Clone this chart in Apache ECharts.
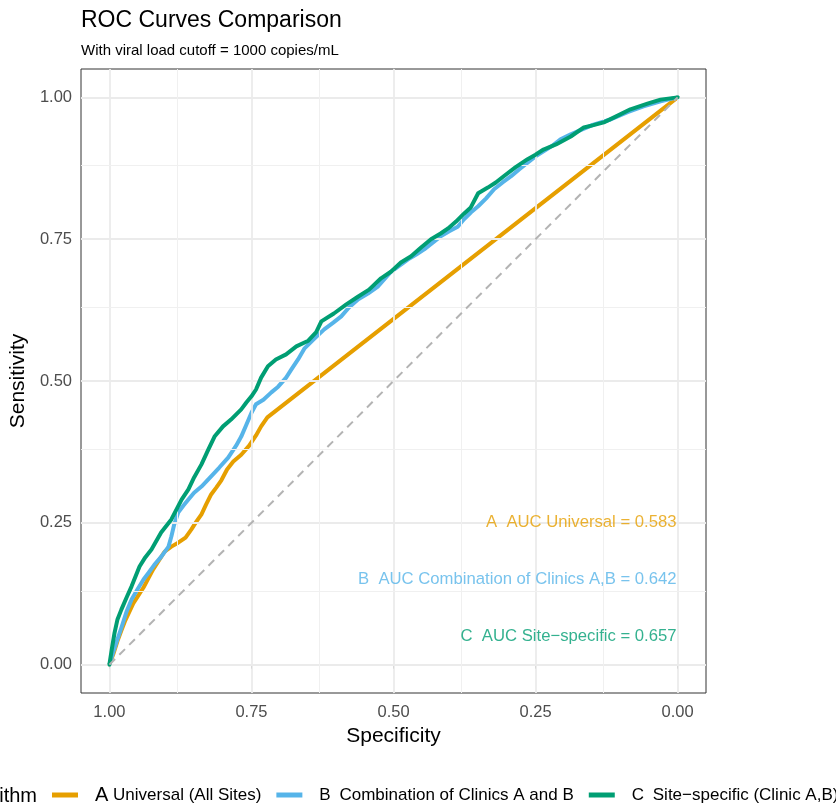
<!DOCTYPE html>
<html>
<head>
<meta charset="utf-8">
<script src="https://cdn.jsdelivr.net/npm/echarts@6.0.0/dist/echarts.min.js"></script>
<style>
html,body{margin:0;padding:0;background:#fff;}
#chart{width:836px;height:803px;}
</style>
</head>
<body>
<div id="chart"></div>
<script>
// ---- data ----
const seriesNames = ['A Universal (All Sites)', 'B Combination of Clinics A and B', 'C Site-specific (Clinic A,B)'];
const legendLetters = ['A', 'B', 'C'];
const legendLabels = ['Universal (All Sites)', 'Combination of Clinics A and B', 'Site\u2212specific (Clinic A,B)'];
const seriesColors = ['#E69F00', '#56B4E9', '#009E73'];
const aucLabels = ['A  AUC Universal = 0.583', 'B  AUC Combination of Clinics A,B = 0.642', 'C  AUC Site\u2212specific = 0.657'];
const aucLabelPos = [[0, 0.25], [0, 0.15], [0, 0.05]];
const majorTicks = [0, 0.25, 0.5, 0.75, 1];
const minorTicks = [0.125, 0.375, 0.625, 0.875];
const chanceLine = [[1, 0], [0, 1]];

// [specificity, sensitivity]
const rocA = [[1.000,0.000],[0.993,0.019],[0.986,0.041],[0.979,0.060],[0.972,0.078],[0.965,0.093],[0.958,0.108],[0.949,0.122],[0.940,0.136],[0.931,0.153],[0.923,0.168],[0.914,0.182],[0.903,0.199],[0.891,0.208],[0.879,0.215],[0.866,0.224],[0.856,0.238],[0.847,0.252],[0.838,0.265],[0.830,0.282],[0.821,0.300],[0.812,0.312],[0.803,0.325],[0.793,0.344],[0.782,0.358],[0.768,0.370],[0.754,0.386],[0.742,0.404],[0.733,0.420],[0.722,0.436],[0.000,1.000]];
const rocB = [[1.000,0.000],[0.993,0.023],[0.986,0.044],[0.979,0.065],[0.970,0.093],[0.961,0.115],[0.951,0.132],[0.940,0.150],[0.931,0.162],[0.921,0.176],[0.909,0.190],[0.896,0.208],[0.891,0.226],[0.886,0.247],[0.879,0.268],[0.870,0.280],[0.861,0.291],[0.851,0.303],[0.838,0.314],[0.821,0.332],[0.807,0.347],[0.791,0.365],[0.777,0.386],[0.768,0.402],[0.759,0.423],[0.750,0.444],[0.742,0.459],[0.729,0.467],[0.715,0.480],[0.703,0.490],[0.689,0.506],[0.680,0.520],[0.668,0.538],[0.657,0.557],[0.641,0.573],[0.622,0.591],[0.606,0.603],[0.592,0.614],[0.578,0.630],[0.562,0.644],[0.545,0.654],[0.527,0.667],[0.513,0.683],[0.504,0.693],[0.487,0.705],[0.475,0.714],[0.460,0.723],[0.446,0.732],[0.431,0.744],[0.417,0.755],[0.402,0.764],[0.387,0.772],[0.376,0.785],[0.364,0.797],[0.351,0.808],[0.337,0.822],[0.323,0.838],[0.308,0.850],[0.293,0.861],[0.279,0.873],[0.264,0.885],[0.250,0.896],[0.236,0.905],[0.220,0.915],[0.206,0.926],[0.188,0.935],[0.176,0.940],[0.148,0.952],[0.118,0.961],[0.088,0.974],[0.060,0.984],[0.030,0.993],[0.000,1.000]];
const rocC = [[1.000,0.000],[0.996,0.026],[0.991,0.056],[0.986,0.079],[0.979,0.097],[0.970,0.118],[0.961,0.138],[0.947,0.173],[0.937,0.189],[0.926,0.203],[0.909,0.233],[0.891,0.256],[0.873,0.291],[0.861,0.309],[0.851,0.330],[0.838,0.353],[0.826,0.379],[0.815,0.402],[0.800,0.420],[0.786,0.432],[0.768,0.450],[0.759,0.462],[0.750,0.473],[0.742,0.485],[0.733,0.506],[0.721,0.526],[0.707,0.538],[0.689,0.547],[0.671,0.561],[0.650,0.571],[0.636,0.586],[0.627,0.605],[0.605,0.619],[0.583,0.635],[0.562,0.649],[0.543,0.661],[0.522,0.681],[0.504,0.693],[0.487,0.709],[0.469,0.720],[0.452,0.735],[0.434,0.750],[0.417,0.760],[0.404,0.769],[0.390,0.781],[0.376,0.795],[0.364,0.806],[0.351,0.831],[0.334,0.841],[0.320,0.850],[0.306,0.861],[0.285,0.877],[0.264,0.891],[0.250,0.899],[0.236,0.908],[0.214,0.917],[0.188,0.931],[0.165,0.947],[0.148,0.951],[0.130,0.956],[0.109,0.966],[0.083,0.979],[0.053,0.989],[0.030,0.996],[0.000,1.000]];
const rocData = [rocA, rocB, rocC];

// ---- chart ----
const FONT = '"Liberation Sans", Arial, Helvetica, sans-serif';
const chart = echarts.init(document.getElementById('chart'), null, {renderer: 'canvas'});

const gridLineData = [];
majorTicks.forEach(v => {
  gridLineData.push({xAxis: v, lineStyle: {color: '#ebebeb', width: 1.8, type: 'solid'}});
  gridLineData.push({yAxis: v, lineStyle: {color: '#ebebeb', width: 1.8, type: 'solid'}});
});
minorTicks.forEach(v => {
  gridLineData.push({xAxis: v, lineStyle: {color: '#f0f0f0', width: 1, type: 'solid'}});
  gridLineData.push({yAxis: v, lineStyle: {color: '#f0f0f0', width: 1, type: 'solid'}});
});

const series = [{
  type: 'line', name: 'grid', data: [], silent: true, z: 1,
  markLine: {silent: true, symbol: 'none', label: {show: false}, animation: false, data: gridLineData}
}];
rocData.forEach((d, i) => {
  series.push({
    type: 'line', name: seriesNames[i], data: d, showSymbol: false, symbol: 'none',
    lineStyle: {color: seriesColors[i], width: 4, join: 'round', cap: 'round'},
    itemStyle: {color: seriesColors[i]}, z: 3 + i, animation: false
  });
});
series.push({
  type: 'line', name: 'chance', data: chanceLine, showSymbol: false, symbol: 'none', z: 7,
  lineStyle: {color: '#b3b3b3', width: 2, type: [8, 6]}, animation: false
});
aucLabels.forEach((t, i) => {
  series.push({
    type: 'scatter', name: 'auc' + i, data: [aucLabelPos[i]], symbolSize: 0, z: 8, silent: true,
    label: {show: true, position: 'left', distance: 1, formatter: t, color: seriesColors[i],
            fontFamily: FONT, fontSize: 16.7, align: 'right', verticalAlign: 'middle'},
    animation: false
  });
});

chart.setOption({
  animation: false,
  backgroundColor: '#ffffff',
  textStyle: {fontFamily: FONT},
  title: [
    {text: 'ROC Curves Comparison', left: 81, top: 9, padding: 0,
     textStyle: {fontFamily: FONT, fontSize: 23, fontWeight: 'normal', color: '#000'}},
    {text: 'With viral load cutoff = 1000 copies/mL', left: 81, top: 43, padding: 0,
     textStyle: {fontFamily: FONT, fontSize: 15, fontWeight: 'normal', color: '#000'}}
  ],
  grid: {left: 80, right: 130, top: 69, bottom: 110, show: true, borderColor: '#333333', borderWidth: 1, backgroundColor: '#fff', containLabel: false},
  xAxis: {
    type: 'value', min: -0.05, max: 1.05, inverse: true,
    name: 'Specificity', nameLocation: 'middle', nameGap: 33,
    nameTextStyle: {fontFamily: FONT, fontSize: 21, color: '#000'},
    axisLine: {show: false},
    axisTick: {show: true, length: 4, customValues: majorTicks, lineStyle: {color: '#333', width: 1}},
    axisLabel: {customValues: majorTicks, margin: 11, color: '#4d4d4d', fontFamily: FONT, fontSize: 16.5,
                formatter: v => v.toFixed(2)},
    splitLine: {show: false}
  },
  yAxis: {
    type: 'value', min: -0.05, max: 1.05,
    name: 'Sensitivity', nameLocation: 'middle', nameGap: 45, nameRotate: 90,
    nameTextStyle: {fontFamily: FONT, fontSize: 21, color: '#000'},
    axisLine: {show: false},
    axisTick: {show: true, length: 4, customValues: majorTicks, lineStyle: {color: '#333', width: 1}},
    axisLabel: {customValues: majorTicks, margin: 9, color: '#4d4d4d', fontFamily: FONT, fontSize: 16.5,
                formatter: v => v.toFixed(2)},
    splitLine: {show: false}
  },
  legend: {
    data: seriesNames, left: 52, top: 785, padding: 0, width: 2000, itemGap: 15,
    itemWidth: 26, itemHeight: 5, icon: 'rect', selectedMode: false,
    formatter: name => {
      const i = seriesNames.indexOf(name);
      return (i === 0 ? '{big|' : '{let|') + legendLetters[i] + '} {t|' + legendLabels[i] + '}';
    },
    textStyle: {
      fontFamily: FONT, fontSize: 17, color: '#000',
      rich: {
        big: {fontFamily: FONT, fontSize: 20, color: '#000', padding: [0, 0, 0, 12]},
        let: {fontFamily: FONT, fontSize: 17, color: '#000', padding: [0, 4, 0, 12]},
        t: {fontFamily: FONT, fontSize: 17, color: '#000'}
      }
    }
  },
  graphic: [{
    type: 'text', right: 836 - 37, top: 786,
    style: {text: 'Algorithm', fontFamily: FONT, fontSize: 20, fill: '#000'}
  }],
  series: series
});
</script>
</body>
</html>
